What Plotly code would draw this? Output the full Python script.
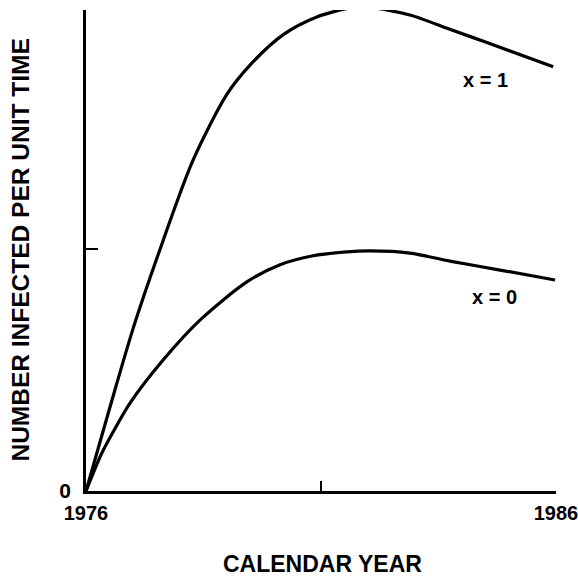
import plotly.graph_objects as go

# ---- data ----
years_x1 = [1976.0, 1976.5, 1977.0, 1977.57, 1978.28, 1979.0, 1979.49, 1980.19,
            1980.91, 1981.62, 1982.04, 1982.89, 1983.74, 1984.53, 1985.94]
vals_x1 = [0.0, 0.34, 0.67, 0.996, 1.368, 1.64, 1.76, 1.885,
           1.959, 1.996, 1.998, 1.967, 1.908, 1.853, 1.753]

years_x0 = [1976.0, 1976.32, 1976.60, 1976.94, 1977.64, 1978.43, 1979.43, 1980.13,
            1980.83, 1981.55, 1982.04, 1982.89, 1983.74, 1984.81, 1985.98]
vals_x0 = [0.0, 0.15, 0.252, 0.364, 0.541, 0.707, 0.865, 0.935,
           0.972, 0.988, 0.992, 0.983, 0.95, 0.913, 0.872]

x_tick_vals = [1976, 1986]
x_tick_text = ["1976", "1986"]
x_minor_ticks = [1981]
y_tick_vals = [0]
y_tick_text = ["0"]
y_minor_ticks = [1]

curve_labels = ["x = 1", "x = 0"]
x_title = "CALENDAR YEAR"
y_title = "NUMBER INFECTED PER UNIT TIME"

FONT = "Liberation Sans, Arial, sans-serif"

fig = go.Figure()
for xs, ys in [(years_x1, vals_x1), (years_x0, vals_x0)]:
    fig.add_trace(go.Scatter(
        x=xs, y=ys, mode="lines",
        line=dict(color="black", width=3.2, shape="spline", smoothing=0.8),
        cliponaxis=False, showlegend=False, hoverinfo="skip",
    ))

fig.add_annotation(x=1984.51, y=1.70, xref="x", yref="y", text=curve_labels[0],
                   xanchor="center", yanchor="middle", showarrow=False,
                   font=dict(family=FONT, size=20, color="black", weight="bold"))
fig.add_annotation(x=1984.70, y=0.80, xref="x", yref="y", text=curve_labels[1],
                   xanchor="center", yanchor="middle", showarrow=False,
                   font=dict(family=FONT, size=20, color="black", weight="bold"))

fig.add_annotation(x=0.504, y=-0.152, xref="paper", yref="paper", text=x_title,
                   xanchor="center", yanchor="middle", showarrow=False,
                   font=dict(family=FONT, size=23, color="black", weight="bold"))
fig.add_annotation(x=-0.1404, y=0.50, xref="paper", yref="paper", text=y_title,
                   xanchor="center", yanchor="middle", textangle=-90, showarrow=False,
                   font=dict(family=FONT, size=24.5, color="black", weight="bold"))

fig.update_layout(
    width=578, height=578,
    margin=dict(l=86, r=22, t=10, b=87, autoexpand=False),
    paper_bgcolor="white", plot_bgcolor="white",
    font=dict(family=FONT, color="black"),
    xaxis=dict(
        range=[1976, 1986], showgrid=False, zeroline=False, automargin=False,
        showline=True, linecolor="black", linewidth=2.5,
        tickmode="array", tickvals=x_tick_vals, ticktext=x_tick_text,
        ticks="", ticklabelstandoff=2, ticklabeloverflow="allow",
        tickfont=dict(family=FONT, size=20, color="black", weight="bold"),
        minor=dict(tickmode="array", tickvals=x_minor_ticks, ticks="inside",
                   ticklen=10, tickwidth=2, tickcolor="black", showgrid=False),
    ),
    yaxis=dict(
        range=[0, 481 / 242], showgrid=False, zeroline=False, automargin=False,
        showline=True, linecolor="black", linewidth=2.5,
        tickmode="array", tickvals=y_tick_vals, ticktext=y_tick_text,
        ticks="", ticklabelstandoff=8,
        tickfont=dict(family=FONT, size=21, color="black", weight="bold"),
        minor=dict(tickmode="array", tickvals=y_minor_ticks, ticks="inside",
                   ticklen=12, tickwidth=2, tickcolor="black", showgrid=False),
    ),
)

fig.write_html("out.html", config={"displayModeBar": False},
               post_script="document.body.style.margin='0';")
